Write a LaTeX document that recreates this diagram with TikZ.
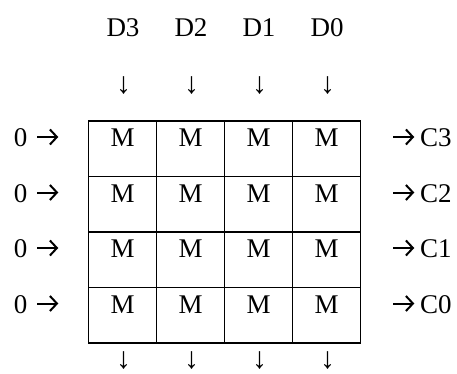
\documentclass[tikz,border=0pt]{standalone}
\usepackage{fontspec}
\setmainfont{Liberation Serif}
\usetikzlibrary{arrows.meta}
\begin{document}
\begin{tikzpicture}[x=1pt,y=-1pt,
  cell/.style={draw,line width=1.6pt,minimum width=68pt,inner sep=0pt,text height=25.9pt,text depth=29.6pt,font=\fontsize{27}{31}\selectfont},
  lbl/.style={inner sep=0pt,anchor=base,font=\fontsize{27}{31}\selectfont},
  darr/.style={inner sep=0pt,anchor=base,text depth=0pt,font=\fontsize{30}{34}\selectfont},
  warrow/.style={line width=2pt,-{Straight Barb[length=7pt,width=15pt]}}]
\useasboundingbox (0,0) rectangle (457,374);
\foreach \r in {0,...,3}{
  \foreach \c in {0,...,3}{
    \node[cell] (m\r\c) at ({122.6+68*\c},{148.75+55.5*\r}) {M};
  }
}
\foreach \c/\d in {0/3,1/2,2/1,3/0}{
  \node[lbl] (d\d) at ({123+68*\c},36.7) {D\d};
  \node[darr] (t\c) at ({123.5+68*\c},94) {↓};
  \node[darr] (b\c) at ({123.5+68*\c},368) {↓};
}
\foreach \r/\k in {0/3,1/2,2/1,3/0}{
  \node[lbl] (z\r) at (20.5,{121+55.5*\r+25.9}) {0};
  \coordinate (ls\r) at (37,{121+55.5*\r+16}) ;
  \coordinate (le\r) at (58.3,{121+55.5*\r+16});
  \draw[warrow] (ls\r) -- (le\r);
  \coordinate (rs\r) at (393,{121+55.5*\r+16});
  \coordinate (re\r) at (414.3,{121+55.5*\r+16});
  \draw[warrow] (rs\r) -- (re\r);
  \node[lbl,anchor=base west] (c\k) at (420,{121+55.5*\r+25.9}) {C\k};
}
\end{tikzpicture}
\end{document}
